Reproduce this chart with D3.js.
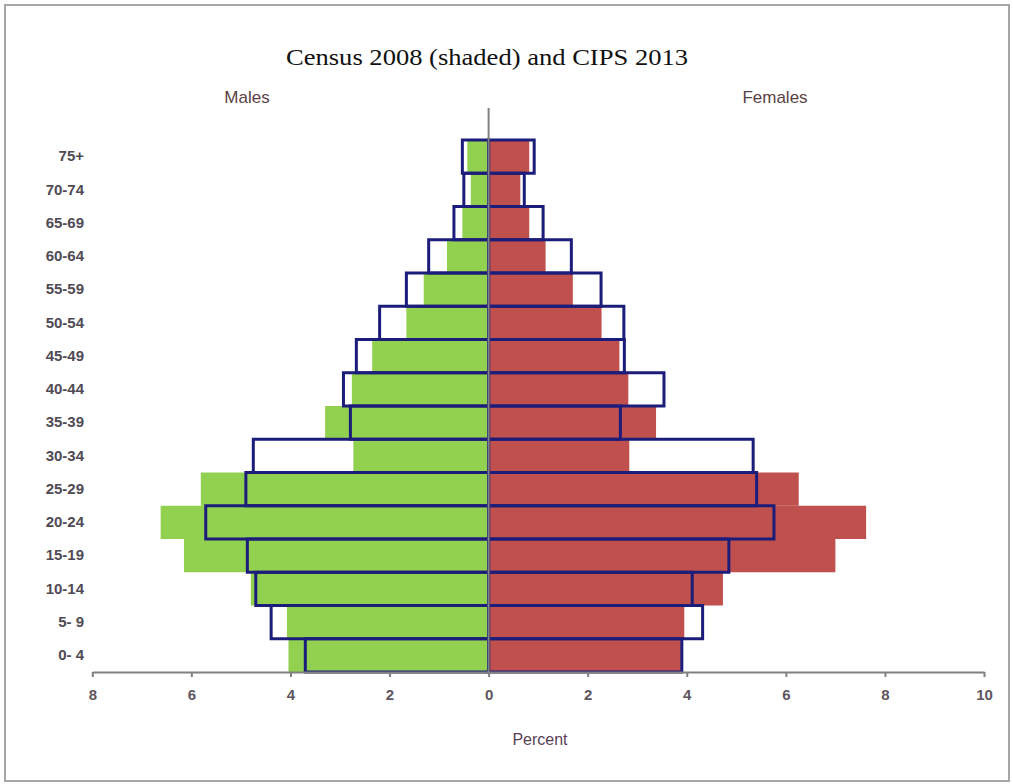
<!DOCTYPE html>
<html><head><meta charset="utf-8">
<script src="https://cdn.jsdelivr.net/npm/d3@7"></script>
<style>body{margin:0;background:#fff}svg{display:block}</style>
</head><body>
<svg id="c" width="1013" height="784"></svg>
<script>
const ages = ["75+","70-74","65-69","60-64","55-59","50-54","45-49","40-44","35-39","30-34","25-29","20-24","15-19","10-14","5- 9","0- 4"];
const maleCensus2008   = [0.43,0.36,0.53,0.84,1.31,1.66,2.35,2.76,3.30,2.73,5.81,6.62,6.15,4.80,4.07,4.04];
const maleCIPS2013     = [0.53,0.50,0.70,1.21,1.66,2.20,2.67,2.93,2.79,4.75,4.90,5.71,4.87,4.70,4.39,3.70];
const femaleCensus2008 = [0.82,0.64,0.82,1.15,1.70,2.28,2.64,2.82,3.38,2.84,6.26,7.62,7.00,4.73,3.95,3.88];
const femaleCIPS2013   = [0.92,0.72,1.10,1.67,2.27,2.73,2.74,3.54,2.66,5.34,5.41,5.76,4.85,4.11,4.32,3.90];
const xTicks = [-8,-6,-4,-2,0,2,4,6,8,10];

const svg = d3.select("#c");
svg.append("rect").attr("x",5).attr("y",5).attr("width",1004).attr("height",776)
  .attr("fill","#fff").attr("stroke","#a6a6a6").attr("stroke-width",2);

const x = d3.scaleLinear().domain([-8,10]).range([92.3,984]);
const y = d3.scaleBand().domain(ages).range([140,672]).padding(0);

const g = svg.append("g");
g.selectAll(".mc").data(ages).join("rect")
  .attr("x",(d,i)=>x(-maleCensus2008[i])).attr("y",d=>y(d))
  .attr("width",(d,i)=>x(0)-x(-maleCensus2008[i])).attr("height",y.bandwidth())
  .attr("fill","#92d050");
g.selectAll(".fc").data(ages).join("rect")
  .attr("x",x(0)).attr("y",d=>y(d))
  .attr("width",(d,i)=>x(femaleCensus2008[i])-x(0)).attr("height",y.bandwidth())
  .attr("fill","#c0504d");

svg.append("line").attr("x1",x(0)).attr("x2",x(0)).attr("y1",108).attr("y2",672)
  .attr("stroke","#808080").attr("stroke-width",2);

g.selectAll(".mo").data(ages).join("rect")
  .attr("x",(d,i)=>x(-maleCIPS2013[i])).attr("y",d=>y(d))
  .attr("width",(d,i)=>x(0)-x(-maleCIPS2013[i])).attr("height",y.bandwidth())
  .attr("fill","none").attr("stroke","#1c1c7a").attr("stroke-width",3);
g.selectAll(".fo").data(ages).join("rect")
  .attr("x",x(0)).attr("y",d=>y(d))
  .attr("width",(d,i)=>x(femaleCIPS2013[i])-x(0)).attr("height",y.bandwidth())
  .attr("fill","none").attr("stroke","#1c1c7a").attr("stroke-width",3);

const xAxis = d3.axisBottom(x).tickValues(xTicks).tickFormat(d=>Math.abs(d)).tickSize(5).tickSizeOuter(0);
const ax = svg.append("g").attr("transform","translate(0,672)").call(xAxis);
ax.select(".domain").attr("stroke","#808080").attr("stroke-width",2);
ax.selectAll(".tick line").attr("stroke","#808080").attr("stroke-width",2);
ax.selectAll(".tick text").attr("y",17).attr("dy","0.71em").attr("font-family","Liberation Sans, Arial, sans-serif")
  .attr("font-size",15).attr("font-weight","bold").attr("fill","#5e5560");

const yAxis = d3.axisLeft(y).tickSize(0);
const ay = svg.append("g").attr("transform","translate(84,0)").call(yAxis);
ay.select(".domain").remove();
ay.selectAll(".tick text").attr("font-family","Liberation Sans, Arial, sans-serif")
  .attr("font-size",15).attr("font-weight","bold").attr("fill","#504a54").attr("x",0);

svg.append("text").attr("x",487).attr("y",65).attr("text-anchor","middle")
  .attr("font-family","Liberation Serif, Times New Roman, serif").attr("font-size",24)
  .attr("textLength",402).attr("lengthAdjust","spacingAndGlyphs")
  .attr("fill","#111").text("Census 2008 (shaded) and CIPS 2013");
svg.append("text").attr("x",247).attr("y",103).attr("text-anchor","middle")
  .attr("font-family","Liberation Sans, Arial, sans-serif").attr("font-size",17)
  .attr("fill","#5a3f45").text("Males");
svg.append("text").attr("x",775).attr("y",103).attr("text-anchor","middle")
  .attr("font-family","Liberation Sans, Arial, sans-serif").attr("font-size",17)
  .attr("fill","#5a3f45").text("Females");
svg.append("text").attr("x",540).attr("y",745).attr("text-anchor","middle")
  .attr("font-family","Liberation Sans, Arial, sans-serif").attr("font-size",16)
  .attr("fill","#5a3f55").text("Percent");
</script>
</body></html>
